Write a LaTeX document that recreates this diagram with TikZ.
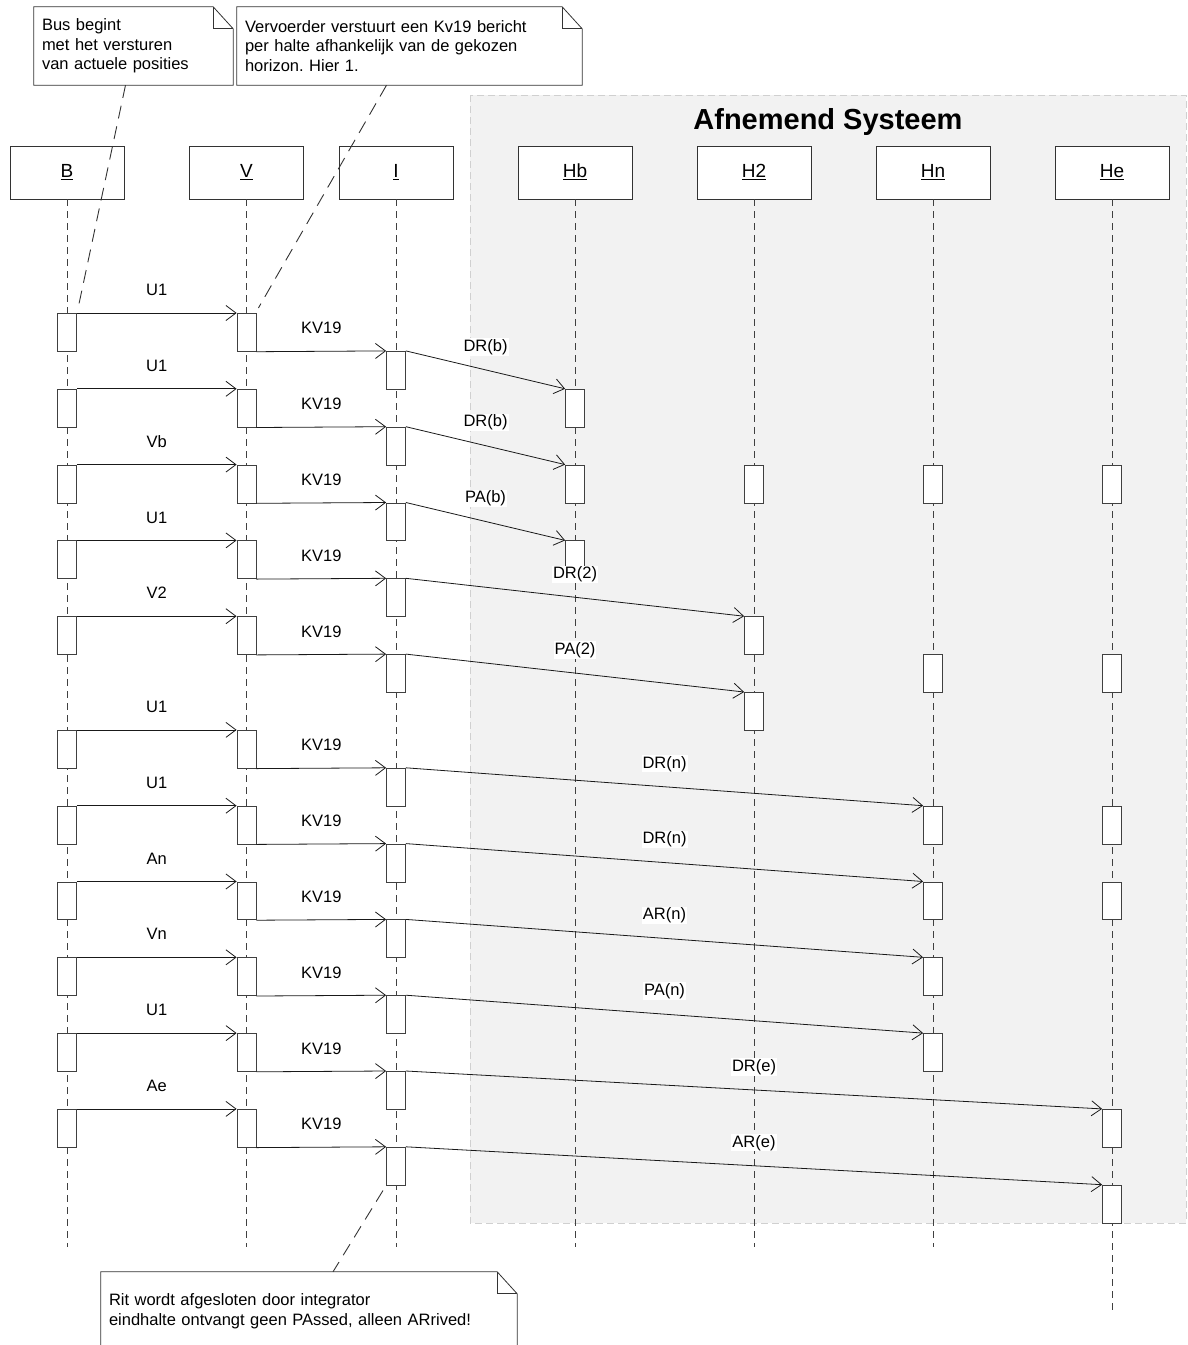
\documentclass[tikz,border=0pt]{standalone}
\usepackage{fontspec}
\setmainfont{Liberation Sans}
\usepackage{tikz}
\usetikzlibrary{arrows.meta}
\frenchspacing

\definecolor{sysfill}{RGB}{242,242,242}
\definecolor{sysedge}{RGB}{208,208,208}

\tikzset{
  head/.style={draw=black!80, fill=white, line width=0.8pt, minimum width=114pt, minimum height=53pt,
    text height=14pt, text depth=4pt, font=\fontsize{19}{22}\selectfont},
  act/.style={draw=black!75, fill=white, line width=0.8pt, minimum width=19pt, minimum height=37.9pt, inner sep=0pt, anchor=north},
  lifeline/.style={draw=black!75, line width=0.8pt, dash pattern=on 7pt off 5pt},
  msg/.style={draw=black!90, line width=0.8pt, -{Straight Barb[length=10pt,width=15pt]}},
  lbl/.style={midway, yshift=23pt, fill=white, inner sep=1pt, font=\fontsize{16.5}{19}\selectfont},
  notebox/.style={align=left, inner xsep=8pt, inner ysep=0pt, minimum height=78pt, font=\fontsize{16.5}{19.5}\selectfont},
  notedraw/.style={draw=black!80, fill=white, line width=0.8pt},
  notelink/.style={draw=black!80, line width=0.9pt, dash pattern=on 13pt off 8pt}
}

% outline with folded corner round a note node
\newcommand{\notefold}[1]{%
  \draw[notedraw] ([xshift=-20pt]#1.north east) -- (#1.north west) -- (#1.south west)
    -- (#1.south east) -- ([yshift=-22pt]#1.north east) -- cycle;
  \draw[notedraw, fill=none] ([xshift=-20pt]#1.north east) |- ([yshift=-22pt]#1.north east);
}

\begin{document}
\begin{tikzpicture}[x=1pt, y=-1pt]
  \clip (0,0) rectangle (1188,1345);

  % receiving system
  \draw[fill=sysfill, draw=sysedge, line width=1pt, dash pattern=on 7pt off 4pt] (470,95) rectangle (1186,1223);
  \node[font=\bfseries\fontsize{29}{33}\selectfont] (sysTitle) at (828,122) {Afnemend Systeem};

  % Objects
  \node[head] (headB)  at (67,172.5)    {\underline{B}};
  \node[head] (headV)  at (246.5,172.5) {\underline{V}};
  \node[head] (headI)  at (396,172.5)   {\underline{I}};
  \node[head] (headHb) at (575,172.5)   {\underline{Hb}};
  \node[head] (headH2) at (754,172.5)   {\underline{H2}};
  \node[head] (headHn) at (933,172.5)   {\underline{Hn}};
  \node[head] (headHe) at (1112,172.5)  {\underline{He}};

  \foreach \n/\x in {B/67, V/246.5, I/396, Hb/575, H2/754, Hn/933}
    \coordinate (end\n) at (\x,1247);
  \coordinate (endHe) at (1112,1310);
  \foreach \n in {B, V, I, Hb, H2, Hn, He}
    \draw[lifeline] (head\n) -- (end\n);

  % Activations
  \foreach \k in {0,2,4,6,8,11,13,15,17,19,21} {
    \node[act] (aB\k) at (67,{313+37.9*\k}) {};
    \node[act] (aV\k) at (246.5,{313+37.9*\k}) {};
  }
  \foreach \k in {1,3,5,7,9,12,14,16,18,20,22}
    \node[act] (aI\k) at (396,{313+37.9*\k}) {};
  \foreach \k in {2,4,6}
    \node[act] (aHb\k) at (575,{313+37.9*\k}) {};
  \foreach \k in {4,8,10}
    \node[act] (aH2\k) at (754,{313+37.9*\k}) {};
  \foreach \k in {4,9,13,15,17,19}
    \node[act] (aHn\k) at (933,{313+37.9*\k}) {};
  \foreach \k in {4,9,13,15,21,23}
    \node[act] (aHe\k) at (1112,{313+37.9*\k}) {};

  % Messages:
  \foreach \k/\txt in {0/U1, 2/U1, 4/Vb, 6/U1, 8/V2, 11/U1, 13/U1, 15/An, 17/Vn, 19/U1, 21/Ae}
    \draw[msg] (aB\k.north east) -- node[lbl] {\txt} (aV\k.north west);
  \foreach \k [evaluate=\k as \p using int(\k-1)] in {1,3,5,7,9,12,14,16,18,20,22}
    \draw[msg] (aV\p.south east) -- node[lbl] {KV19} (aI\k.north west);
  \foreach \k/\h/\txt [evaluate=\k as \q using int(\k+1)] in
      {1/Hb/{DR(b)}, 3/Hb/{DR(b)}, 5/Hb/{PA(b)}, 7/H2/{DR(2)}, 9/H2/{PA(2)},
       12/Hn/{DR(n)}, 14/Hn/{DR(n)}, 16/Hn/{AR(n)}, 18/Hn/{PA(n)},
       20/He/{DR(e)}, 22/He/{AR(e)}}
    \draw[msg] (aI\k.north east) -- node[lbl] {\txt} (a\h\q.north west);

  % Notes
  \node[notebox, text width=183pt] (noteBus) at (133.5,46) {Bus begint\\met het versturen\\van actuele posities};
  \notefold{noteBus}
  \node[notebox, text width=183pt] at (133.5,46) {Bus begint\\met het versturen\\van actuele posities};
  \node[notebox, text width=329pt] (noteKv) at (409.5,46) {Vervoerder verstuurt een Kv19 bericht\\per halte afhankelijk van de gekozen\\horizon. Hier 1.};
  \notefold{noteKv}
  \node[notebox, text width=329pt] at (409.5,46) {Vervoerder verstuurt een Kv19 bericht\\per halte afhankelijk van de gekozen\\horizon. Hier 1.};
  \node[notebox, text width=400pt] (noteRit) at (309,1311) {Rit wordt afgesloten door integrator\\eindhalte ontvangt geen PAssed, alleen ARrived!};
  \notefold{noteRit}
  \node[notebox, text width=400pt] at (309,1311) {Rit wordt afgesloten door integrator\\eindhalte ontvangt geen PAssed, alleen ARrived!};

  \draw[notelink] ([xshift=-8pt]noteBus.south) -- ([xshift=1pt,yshift=4pt]aB0.north east);
  \draw[notelink] ([xshift=-23pt]noteKv.south) -- ([xshift=2pt,yshift=5pt]aV0.north east);
  \draw[notelink] ([xshift=-13pt,yshift=-5pt]aI22.south) -- ([xshift=24pt]noteRit.north);
\end{tikzpicture}
\end{document}
